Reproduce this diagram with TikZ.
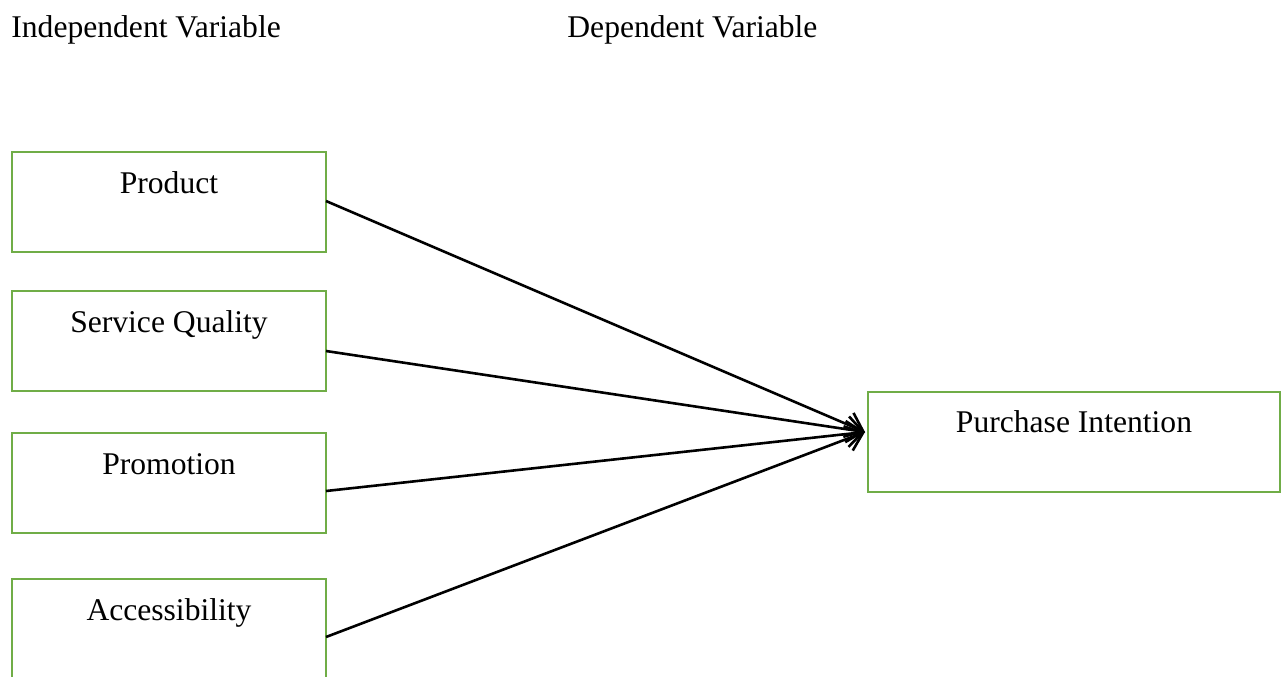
\documentclass[tikz,border=0pt]{standalone}
\usepackage{fontspec}
\setmainfont{Liberation Serif}
\usetikzlibrary{arrows.meta,calc}
\definecolor{boxgreen}{RGB}{112,173,71}
\begin{document}
\begin{tikzpicture}[x=0.5pt,y=-0.5pt,
  box/.style={draw=boxgreen,line width=1.3pt,minimum width=157pt,minimum height=50pt,inner sep=0pt,outer sep=0pt},
  lbl/.style={inner sep=0pt,anchor=base,font=\fontsize{15.8}{19}\selectfont},
  head/.style={inner sep=0pt,anchor=base west,font=\fontsize{15.8}{19}\selectfont},
  conn/.style={line width=1.3pt,-{Straight Barb[length=8pt,width=13pt,line width=1.3pt]}}]
\useasboundingbox (0,0) rectangle (1281,676);
\node[head] (iv) at (11,37) {Independent Variable};
\node[head] (dv) at (567,37) {Dependent Variable};
\node[box] (p) at (169,202) {};
\node[lbl] (pt) at ($(p.north)+(0,41)$) {Product};
\node[box] (s) at (169,341) {};
\node[lbl] (st) at ($(s.north)+(0,41)$) {Service Quality};
\node[box] (m) at (169,483) {};
\node[lbl] (mt) at ($(m.north)+(0,41)$) {Promotion};
\node[box] (a) at (169,629) {};
\node[lbl] (at) at ($(a.north)+(0,41)$) {Accessibility};
\node[box,minimum width=206pt] (pi) at (1074,442) {};
\node[lbl] (pit) at ($(pi.north)+(0,40)$) {Purchase Intention};
\coordinate (tip) at ($(pi.west)+(-3,-10)$);
\draw[conn] ($(p.east)+(0,-1)$) -- (tip);
\draw[conn] ($(s.east)+(0,10)$) -- (tip);
\draw[conn] ($(m.east)+(0,8)$) -- (tip);
\draw[conn] ($(a.east)+(0,8)$) -- (tip);
\end{tikzpicture}
\end{document}
